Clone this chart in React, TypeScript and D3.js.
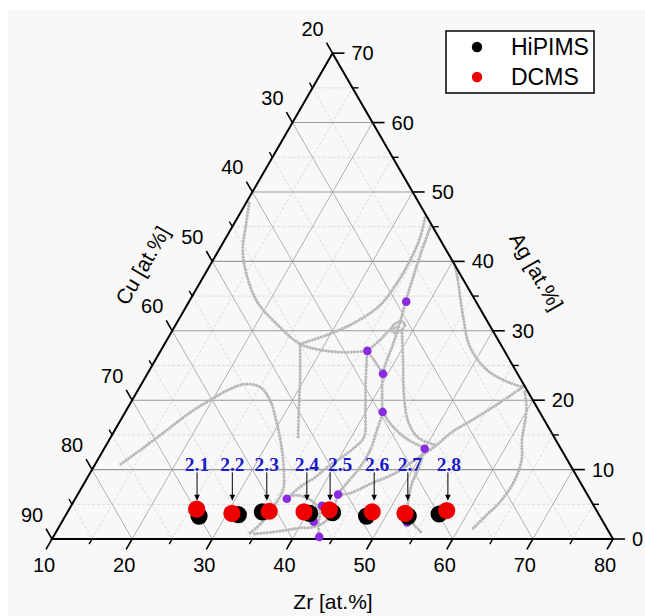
import React from "react";
import * as d3 from "d3";

type Pt = [number, number]; // [Zr, Ag] in at.%, Cu = 100 - Zr - Ag

// axis ticks (window: Zr 10-80, Ag 0-70, Cu 20-90)
const zrTicks = [10, 20, 30, 40, 50, 60, 70, 80];
const agTicks = [0, 10, 20, 30, 40, 50, 60, 70];
const cuTicks = [20, 30, 40, 50, 60, 70, 80, 90];
const zrMinor = [15, 25, 35, 45, 55, 65, 75];
const agMinor = [5, 15, 25, 35, 45, 55, 65];
const cuMinor = [25, 35, 45, 55, 65, 75, 85];

// samples
const samples = ["2.1", "2.2", "2.3", "2.4", "2.5", "2.6", "2.7", "2.8"];
const hipimsZr = [26.7, 31.5, 34.3, 40.3, 43.1, 47.6, 52.8, 56.5];
const hipimsAg = [3.3, 3.5, 3.9, 3.7, 3.8, 3.3, 3.3, 3.6];
const dcmsZr = [25.9, 30.6, 35.1, 39.5, 42.5, 48.0, 52.2, 57.2];
const dcmsAg = [4.3, 3.7, 4.0, 3.9, 4.2, 3.9, 3.7, 4.1];
const arrowZr = [25.35, 29.75, 34.05, 39.05, 41.95, 47.45, 51.65, 56.65];

// purple points (invariant points)
const purpleZr = [37.1, 35.8, 39.4, 42.1, 50.0, 42.5, 36.4, 41.3, 41.4, 43.2, 53.1];
const purpleAg = [34.2, 27.1, 23.8, 18.3, 13.0, 6.4, 5.8, 4.8, 2.5, 0.3, 2.4];

// grey boundary curves
const leftArc: Pt[] = [[10.4, 48.4], [11.6, 45.2], [13.0, 41.6], [15.3, 38.0], [18.6, 34.1], [22.8, 30.8], [26.9, 28.1], [30.1, 27.2], [33.1, 26.9], [35.8, 27.1]];
const upperArc: Pt[] = [[26.9, 28.1], [29.8, 29.5], [32.3, 31.3], [34.1, 33.7], [34.6, 36.9], [34.6, 40.3], [34.2, 43.5], [33.3, 46.6]];
const valleyLine: Pt[] = [[34.7, 45.1], [35.5, 40.9], [36.3, 37.3], [37.0, 34.3], [37.8, 31.3], [38.5, 28.2], [38.9, 25.8], [39.4, 23.8], [40.7, 21.0], [42.2, 18.3], [44.7, 16.0], [47.3, 14.3], [50.0, 13.1]];
const diagonal: Pt[] = [[35.8, 27.1], [37.6, 25.5], [39.4, 23.8]];
const toCluster: Pt[] = [[35.8, 27.1], [36.6, 28.7], [37.1, 30.1], [37.9, 30.55]];
const clusterLoop: Pt[] = [[37.9, 31.4], [38.6, 30.9], [38.6, 30.2], [37.9, 29.7], [37.2, 30.2], [37.2, 30.9], [37.9, 31.4]];
const purpleDrop: Pt[] = [[35.8, 27.1], [37.7, 22.9], [39.8, 18.6], [41.6, 14.7], [41.2, 13.3], [40.3, 11.8], [39.2, 10.4], [38.4, 8.9], [37.2, 7.5], [36.4, 5.8]];
const clusterDrop: Pt[] = [[38.6, 30.1], [40.9, 25.8], [43.4, 21.0], [46.0, 16.9], [48.4, 14.6], [51.2, 13.5]];
const rightLoop: Pt[] = [[40.5, 39.5], [41.7, 37.75], [45.3, 32.0], [48.3, 27.7], [52.1, 24.35], [55.9, 22.5], [57.8, 21.9]];
const rightSweep: Pt[] = [[57.8, 21.9], [56.1, 19.7], [54.1, 17.4], [52.2, 15.4], [51.2, 13.5], [49.6, 11.4], [48.1, 9.5], [45.7, 7.9], [43.9, 6.6], [42.5, 6.4]];
const rightDrop: Pt[] = [[58.4, 21.2], [59.9, 18.6], [61.5, 14.3], [62.9, 11.4], [63.5, 8.5], [63.3, 5.6], [62.4, 3.2], [61.7, 1.3]];
const junctionDrop: Pt[] = [[50.0, 13.0], [50.7, 9.9], [50.9, 8.1], [52.1, 4.6], [53.7, 2.45], [55.7, 0.9]];
const leftHump: Pt[] = [[13.2, 10.8], [14.95, 13.3], [16.5, 15.7], [18.1, 18.2], [19.7, 20.0], [21.4, 21.6], [22.9, 22.3], [25.0, 21.9], [27.2, 20.0], [29.7, 16.7], [32.3, 12.8], [34.5, 8.9], [35.3, 7.1], [35.4, 5.6], [35.2, 4.2], [35.0, 2.4], [34.3, 0.86]];
const junctionStem: Pt[] = [[26.9, 28.1], [29.5, 22.9], [31.5, 18.6], [33.55, 14.3]];
const midDrop: Pt[] = [[42.2, 18.3], [42.7, 15.7], [43.3, 12.8], [43.2, 9.9], [42.7, 7.8], [42.5, 6.4], [43.1, 3.9], [42.8, 2.45], [41.7, 1.7], [40.2, 1.6], [38.7, 1.3], [37.1, 1.0], [34.6, 0.7]];
const bottomLoop: Pt[] = [[36.3, 6.05], [37.4, 6.3], [38.9, 5.9], [40.4, 5.0], [41.5, 3.9], [42.0, 2.45], [43.2, 0.3]];

const curves = [leftArc, upperArc, valleyLine, diagonal, toCluster, clusterLoop, purpleDrop, clusterDrop, rightLoop, rightSweep, rightDrop, junctionDrop, leftHump, junctionStem, midDrop, bottomLoop];

const font = "'Liberation Sans', Arial, sans-serif";

export default function App() {
  const x0 = 52, x1 = 613, yb = 539;
  const side = x1 - x0;
  const zrScale = d3.scaleLinear().domain([10, 80]).range([x0, x1]);
  const agScale = d3.scaleLinear().domain([0, 70]).range([yb, yb - (side * Math.sqrt(3)) / 2]);
  const P = (z: number, a: number): [number, number] => [zrScale(z + a / 2), agScale(a)];

  const line = d3.line<Pt>().x((d) => P(d[0], d[1])[0]).y((d) => P(d[0], d[1])[1]).curve(d3.curveCatmullRom.alpha(0.5));

  const c30 = 0.5, s60 = Math.sqrt(3) / 2;
  const [ax, ay] = P(10, 0), [bx, by] = P(80, 0), [tx, ty] = P(10, 70);

  const grid = (major: boolean) => {
    const zs = major ? zrTicks.slice(1, -1) : zrMinor;
    const as = major ? agTicks.slice(1, -1) : agMinor;
    const cs = major ? cuTicks.slice(1, -1) : cuMinor;
    const segs: { p: [number, number]; q: [number, number]; h: boolean }[] = [];
    zs.forEach((z) => segs.push({ p: P(z, 0), q: P(z, 80 - z), h: false }));
    as.forEach((a) => segs.push({ p: P(10, a), q: P(80 - a, a), h: true }));
    cs.forEach((c) => segs.push({ p: P(10, 90 - c), q: P(100 - c, 0), h: false }));
    return segs;
  };

  return (
    <svg width={645} height={616} style={{ position: "absolute", left: 0, top: 0, background: "#fff" }}>
      <rect x={8} y={10} width={637} height={606} fill="#f8f8f8" />

      {/* minor grid */}
      {grid(false).map((s, i) => (
        <line key={"m" + i} x1={s.p[0]} y1={s.p[1]} x2={s.q[0]} y2={s.q[1]} stroke="#d2d2d2" strokeWidth={0.8} strokeDasharray="3 2" />
      ))}
      {/* major grid */}
      {grid(true).map((s, i) => (
        <line key={"g" + i} x1={s.p[0]} y1={s.p[1]} x2={s.q[0]} y2={s.q[1]} stroke={s.h ? "#9a9a9a" : "#a0a0a0"} strokeWidth={s.h ? 1.1 : 0.8} />
      ))}

      {/* grey curves */}
      {curves.map((c, i) => (
        <path key={"c" + i} d={line(c) || ""} fill="none" stroke="#b9b9b9" strokeWidth={3.1} strokeLinecap="round" strokeDasharray="0.1 3.1" />
      ))}

      {/* frame */}
      <path d={`M${ax},${ay}L${bx},${by}L${tx},${ty}Z`} fill="none" stroke="#000" strokeWidth={2} strokeLinejoin="miter" />

      {/* Zr ticks (bottom) */}
      {zrTicks.map((z) => {
        const [x, y] = P(z, 0);
        return (
          <g key={"zt" + z}>
            <line x1={x} y1={y} x2={x - c30 * 12} y2={y + s60 * 12} stroke="#000" strokeWidth={1.6} />
            <text x={x - 8} y={y + 33} textAnchor="middle" fontFamily={font} fontSize={20}>{z}</text>
          </g>
        );
      })}
      {zrMinor.map((z) => {
        const [x, y] = P(z, 0);
        return <line key={"zm" + z} x1={x} y1={y} x2={x - c30 * 6} y2={y + s60 * 6} stroke="#000" strokeWidth={1.4} />;
      })}

      {/* Ag ticks (right) */}
      {agTicks.map((a) => {
        const [x, y] = P(80 - a, a);
        return (
          <g key={"at" + a}>
            <line x1={x} y1={y} x2={x + 12} y2={y} stroke="#000" strokeWidth={1.6} />
            <text x={x + 19} y={y + 7} textAnchor="start" fontFamily={font} fontSize={20}>{a}</text>
          </g>
        );
      })}
      {agMinor.map((a) => {
        const [x, y] = P(80 - a, a);
        return <line key={"am" + a} x1={x} y1={y} x2={x + 6} y2={y} stroke="#000" strokeWidth={1.4} />;
      })}

      {/* Cu ticks (left) */}
      {cuTicks.map((c) => {
        const [x, y] = P(10, 90 - c);
        return (
          <g key={"ct" + c}>
            <line x1={x} y1={y} x2={x - c30 * 12} y2={y - s60 * 12} stroke="#000" strokeWidth={1.6} />
            <text x={x - 20} y={y - 17.5} textAnchor="middle" fontFamily={font} fontSize={20}>{c}</text>
          </g>
        );
      })}
      {cuMinor.map((c) => {
        const [x, y] = P(10, 90 - c);
        return <line key={"cm" + c} x1={x} y1={y} x2={x - c30 * 6} y2={y - s60 * 6} stroke="#000" strokeWidth={1.4} />;
      })}

      {/* axis titles */}
      <text x={333} y={609} textAnchor="middle" fontFamily={font} fontSize={21}>Zr [at.%]</text>
      <text x={142.5} y={265.5} dy="0.35em" textAnchor="middle" fontFamily={font} fontSize={21} transform="rotate(-60 142.5 265.5)">Cu [at.%]</text>
      <text x={536.5} y={271.5} dy="0.35em" textAnchor="middle" fontFamily={font} fontSize={21} transform="rotate(60 536.5 271.5)">Ag [at.%]</text>

      {/* purple points */}
      {purpleZr.map((z, i) => {
        const [x, y] = P(z, purpleAg[i]);
        return <circle key={"p" + i} cx={x} cy={y} r={4.3} fill="#8a2be2" />;
      })}

      {/* HiPIMS then DCMS */}
      {hipimsZr.map((z, i) => {
        const [x, y] = P(z, hipimsAg[i]);
        return <circle key={"h" + i} cx={x} cy={y} r={8.6} fill="#000" />;
      })}
      {dcmsZr.map((z, i) => {
        const [x, y] = P(z, dcmsAg[i]);
        return <circle key={"d" + i} cx={x} cy={y} r={8.6} fill="#ee0000" />;
      })}

      {/* sample labels with arrows */}
      {samples.map((s, i) => {
        const [x, tipY] = P(arrowZr[i], 5.5);
        const topY = agScale(9.6);
        const shift = [0, 0, 0, 0, 10, 3, 2, 1][i];
        return (
          <g key={"s" + s}>
            <line x1={x} y1={topY} x2={x} y2={tipY - 5} stroke="#000" strokeWidth={1} />
            <path d={`M${x - 2.8},${tipY - 6}L${x + 2.8},${tipY - 6}L${x},${tipY}Z`} fill="#000" />
            <text x={x + shift} y={agScale(9.73)} textAnchor="middle" fontFamily="'Liberation Serif', 'Times New Roman', serif" fontWeight="bold" fontSize={19.5} fill="#1a1ac8">{s}</text>
          </g>
        );
      })}

      {/* legend */}
      <rect x={446} y={31} width={148} height={62} fill="#fff" stroke="#000" strokeWidth={1.5} />
      <circle cx={477} cy={47} r={5.2} fill="#000" />
      <circle cx={477} cy={77} r={5.2} fill="#ee0000" />
      <text x={511} y={55} fontFamily={font} fontSize={23}>HiPIMS</text>
      <text x={511} y={85} fontFamily={font} fontSize={23}>DCMS</text>
    </svg>
  );
}
